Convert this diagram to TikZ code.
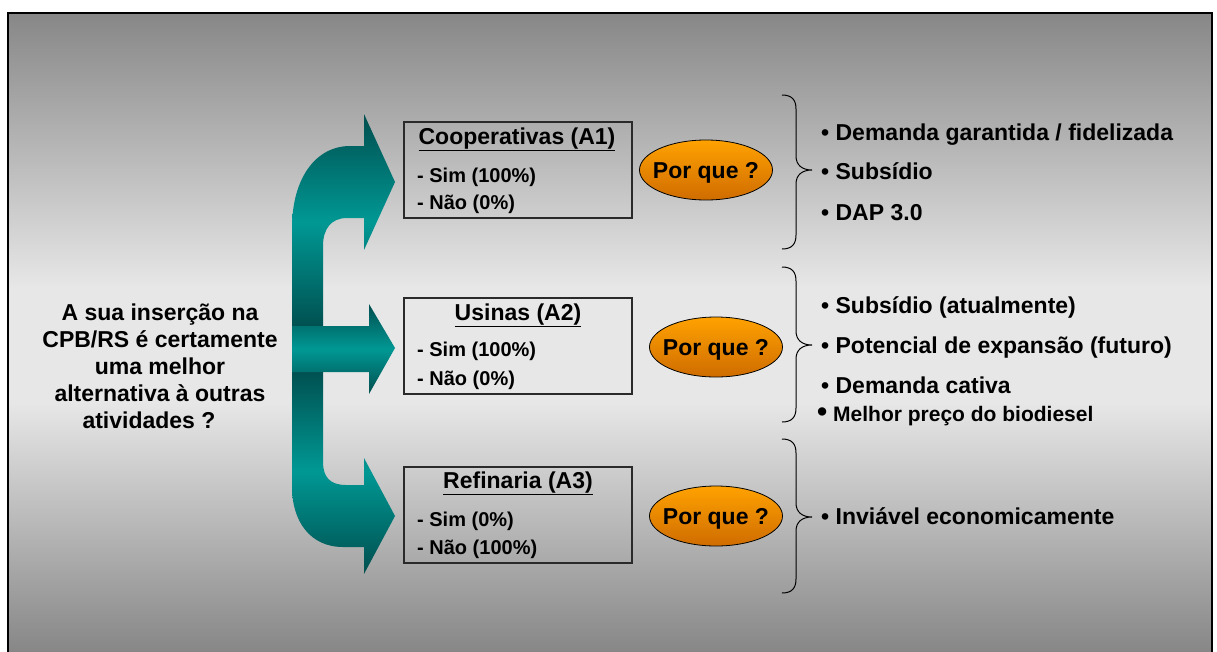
\documentclass[tikz,border=0pt]{standalone}
\usepackage{fontspec}
\setmainfont{Liberation Sans}
\usetikzlibrary{shapes.geometric}

\definecolor{bgedge}{HTML}{878787}
\definecolor{bgmid}{HTML}{E7E7E7}
\definecolor{tealdark}{HTML}{004E4E}
\definecolor{teallight}{HTML}{009894}
\definecolor{orangetop}{HTML}{FFA200}
\definecolor{orangebot}{HTML}{CF6C00}
\definecolor{boxline}{HTML}{2A2A2A}

% slide background: dark at top and bottom, light band in the middle
% (the path's box covers 25bp..75bp of the shading)
\pgfdeclareverticalshading{slidebg}{100bp}{%
  color(0bp)=(bgedge); color(25bp)=(bgedge); color(44.5bp)=(bgmid);
  color(53.5bp)=(bgmid); color(75bp)=(bgedge); color(100bp)=(bgedge)}

% closing curly brace: top y, tip y, bottom y
\newcommand\curlybrace[3]{%
  \draw[bracestyle] (782,#1) .. controls (792,#1) and (796,#1+5) .. (796,#1+14)
    -- (796,#2-14) .. controls (796,#2-5) and (802,#2) .. (812,#2)
    .. controls (802,#2) and (796,#2+5) .. (796,#2+14)
    -- (796,#3-14) .. controls (796,#3-5) and (792,#3) .. (782,#3);}

\begin{document}
\begin{tikzpicture}[x=1pt,y=-1pt,
  boxframe/.style={draw=boxline, line width=1.3pt, minimum width=228pt,
    minimum height=96pt, inner sep=0pt},
  boxtitle/.style={font=\fontsize{23}{27}\selectfont\bfseries, inner sep=0pt, anchor=base},
  boxitem/.style={font=\fontsize{20}{24}\selectfont\bfseries, inner sep=0pt, anchor=base west},
  why/.style={ellipse, draw=black, line width=0.8pt, top color=orangetop,
    bottom color=orangebot, minimum width=133pt, minimum height=60pt, inner sep=0pt},
  whytext/.style={font=\fontsize{23}{27}\selectfont\bfseries, inner sep=0pt, anchor=base},
  reason/.style={font=\fontsize{23}{27}\selectfont\bfseries, inner sep=0pt, anchor=base west},
  reasonsmall/.style={font=\fontsize{21}{25}\selectfont\bfseries, inner sep=0pt, anchor=base west},
  question/.style={font=\fontsize{23}{27}\selectfont\bfseries, align=center, inner sep=0pt, anchor=base},
  bracestyle/.style={draw=black, line width=1pt},
  tealfill/.style={top color=tealdark, bottom color=tealdark, middle color=teallight}]

\useasboundingbox (0,0) rectangle (1217,651);

% background and frame
\shade[shading=slidebg] (8,13) rectangle (1212,651);
\draw[line width=1.5pt] (8,13) rectangle (1212,665);

% branching arrows
\shade[tealfill] (364,146) -- (364,114) -- (395,182) -- (364,250) -- (364,218)
  -- (347,218) .. controls (331,218) and (323,229) .. (323,246)
  -- (323,330) -- (292,330) -- (292,228)
  .. controls (292,178) and (316,146) .. (350,146) -- cycle;
\shade[tealfill] (323,368) -- (323,462) .. controls (323,477) and (330,485) .. (346,485)
  -- (364,485) -- (364,458) -- (395,516) -- (364,574) -- (364,547)
  -- (343,547) .. controls (310,547) and (292,521) .. (292,487) -- (292,368) -- cycle;
\shade[tealfill] (292,326) -- (369,326) -- (369,304) -- (395,348) -- (369,394)
  -- (369,372) -- (292,372) -- cycle;

% question (base anchor sits on the last line)
\node[question] (q) at (160,428) {A sua inserção na\\CPB/RS é certamente\\uma melhor\hspace*{16pt}\\alternativa à outras\\atividades ?\hspace*{22pt}};

% option boxes
\node[boxframe] (a1) at (518,170) {};
\node[boxtitle] (a1t) at (517,144) {\underline{Cooperativas (A1)}};
\node[boxitem] (a1s) at (417,182) {- Sim (100\%)};
\node[boxitem] (a1n) at (417,209) {- Não (0\%)};

\node[boxframe] (a2) at (518,346) {};
\node[boxtitle] (a2t) at (518,320) {\underline{Usinas (A2)}};
\node[boxitem] (a2s) at (417,356) {- Sim (100\%)};
\node[boxitem] (a2n) at (417,385) {- Não (0\%)};

\node[boxframe] (a3) at (518,515) {};
\node[boxtitle] (a3t) at (518,488) {\underline{Refinaria (A3)}};
\node[boxitem] (a3s) at (417,526) {- Sim (0\%)};
\node[boxitem] (a3n) at (417,554) {- Não (100\%)};

% "why" ellipses
\node[why] (w1) at (706,170) {};
\node[whytext] (w1t) at (706,178) {Por que ?};
\node[why] (w2) at (716,347) {};
\node[whytext] (w2t) at (716,355) {Por que ?};
\node[why] (w3) at (716,516) {};
\node[whytext] (w3t) at (716,524) {Por que ?};

% braces
\curlybrace{95}{170}{249}
\curlybrace{267}{345}{422}
\curlybrace{439}{517}{593}

% reasons
\node[reason] (r11) at (821,140) {• Demanda garantida / fidelizada};
\node[reason] (r12) at (821,179) {• Subsídio};
\node[reason] (r13) at (821,220) {• DAP 3.0};

\node[reason] (r21) at (821,313) {• Subsídio (atualmente)};
\node[reason] (r22) at (821,353) {• Potencial de expansão (futuro)};
\node[reason] (r23) at (821,393) {• Demanda cativa};
\node[reasonsmall] (r24) at (817,421) {{\fontsize{29}{29}\selectfont •} Melhor preço do biodiesel};

\node[reason] (r31) at (821,524) {• Inviável economicamente};
\end{tikzpicture}
\end{document}
